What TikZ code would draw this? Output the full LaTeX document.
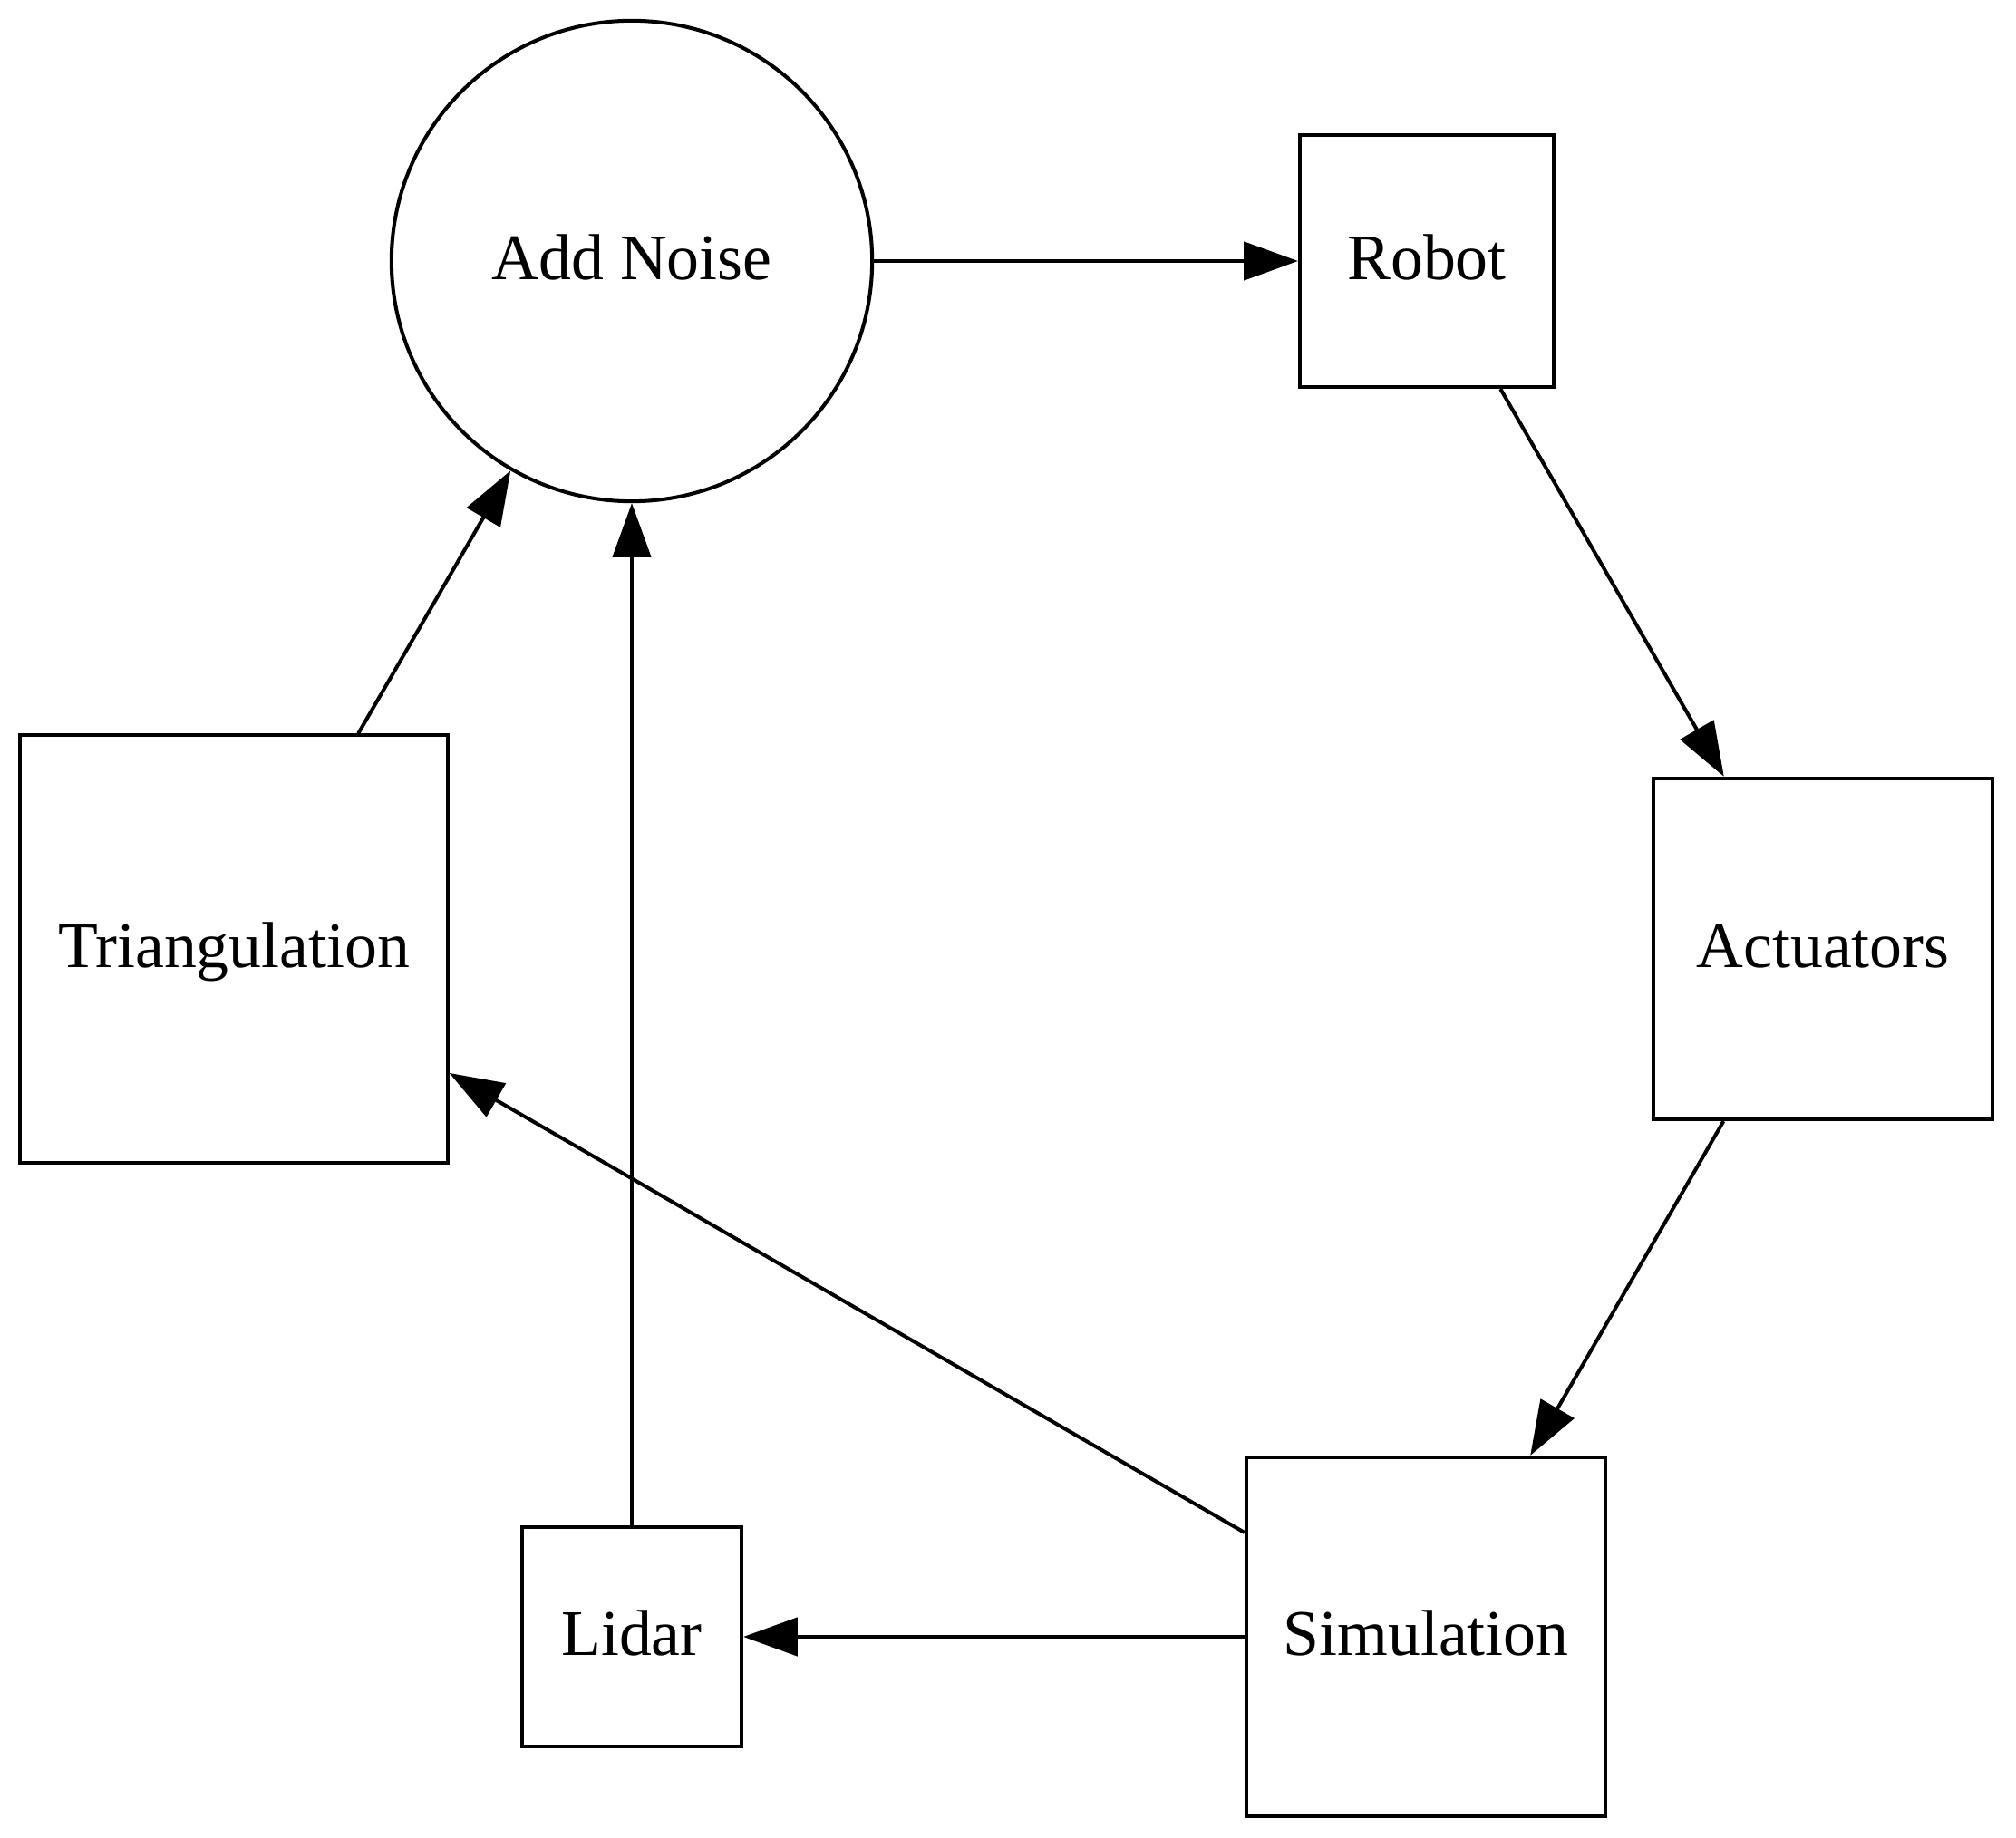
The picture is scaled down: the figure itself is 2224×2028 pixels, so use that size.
\documentclass[tikz,border=0pt]{standalone}
\usepackage{fontspec}
\setmainfont{Liberation Serif}
\usetikzlibrary{arrows.meta}
\begin{document}
\begin{tikzpicture}[x=0.01cm,y=-0.01cm,
  every node/.style={font=\fontsize{20.4pt}{24pt}\selectfont, text height=14pt, text depth=2.6pt, inner sep=0pt, line width=1.15pt},
  boxnode/.style={draw, rectangle},
  circnode/.style={draw, circle},
  conn/.style={line width=1.15pt, -{Triangle[length=17pt,width=12pt]}}
]
\useasboundingbox (0,0) rectangle (2224,2028);
\node[circnode, minimum size=5.30cm] (noise) at (697,288) {Add Noise};
\node[boxnode, minimum width=2.80cm, minimum height=2.78cm] (robot) at (1574,288) {Robot};
\node[boxnode, minimum width=3.74cm, minimum height=3.76cm] (act) at (2011,1047) {Actuators};
\node[boxnode, minimum width=3.96cm, minimum height=3.96cm] (sim) at (1573,1806) {Simulation};
\node[boxnode, minimum width=2.42cm, minimum height=2.41cm] (lidar) at (697,1806) {Lidar};
\node[boxnode, minimum width=4.71cm, minimum height=4.71cm] (tri) at (258,1047) {Triangulation};
\draw[conn] (noise) -- (robot);
\draw[conn] (robot) -- (act);
\draw[conn] (act) -- (sim);
\draw[conn] (sim) -- (lidar);
\draw[conn] (sim) -- (tri);
\draw[conn] (tri) -- (noise);
\draw[conn] (lidar) -- (noise);
\end{tikzpicture}
\end{document}
